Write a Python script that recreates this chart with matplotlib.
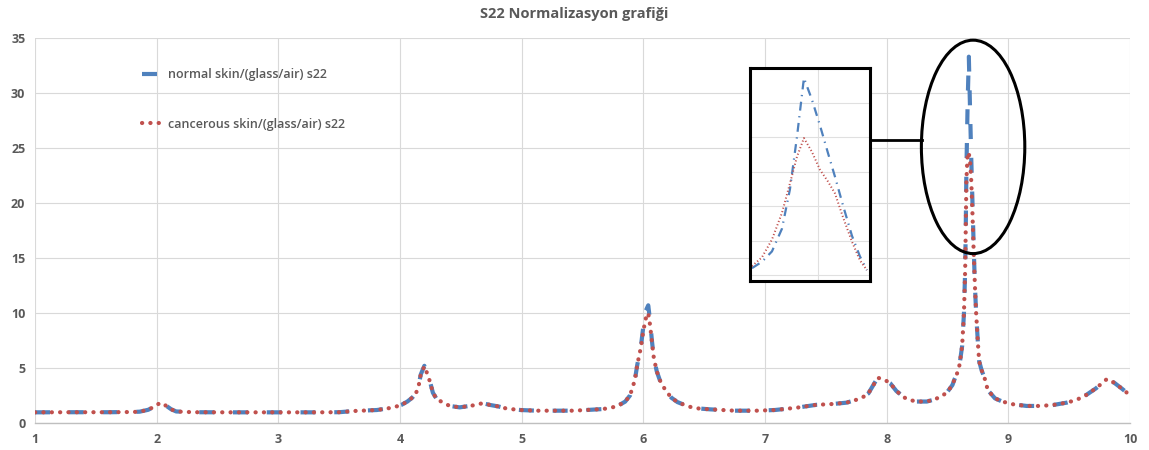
import matplotlib
matplotlib.use("Agg")
import matplotlib.pyplot as plt
from matplotlib.patches import Ellipse
from matplotlib.lines import Line2D

plt.rcParams['font.family'] = ['Open Sans', 'DejaVu Sans']

# ---------------- data ----------------
title = "S22 Normalizasyon grafiği"
label_normal = "normal skin/(glass/air) s22"
label_cancer = "cancerous skin/(glass/air) s22"

x_vals = [1.0, 1.3, 1.6, 1.8, 1.86, 1.93, 1.99, 2.03, 2.08, 2.12, 2.16, 2.3, 2.6, 3.0, 3.3,
          3.5, 3.62, 3.81, 3.94, 4.01, 4.06, 4.10, 4.13, 4.15, 4.17, 4.20, 4.23, 4.25, 4.27,
          4.30, 4.36, 4.41, 4.49, 4.60, 4.68, 4.74, 4.81, 4.88, 4.99, 5.12, 5.26, 5.42, 5.53,
          5.67, 5.78, 5.85, 5.89, 5.93, 5.95, 5.98, 6.00, 6.02, 6.04, 6.055, 6.07, 6.086, 6.11,
          6.135, 6.18, 6.23, 6.28, 6.36, 6.42, 6.55, 6.75, 6.93, 7.08, 7.26, 7.42, 7.56, 7.67,
          7.79, 7.85, 7.89, 7.93, 7.98, 8.03, 8.08, 8.16, 8.24, 8.33, 8.38, 8.45, 8.50, 8.54,
          8.56, 8.59, 8.60, 8.62, 8.635, 8.645, 8.65, 8.655, 8.665, 8.675, 8.685, 8.695, 8.705,
          8.715, 8.725, 8.735, 8.75, 8.76, 8.78, 8.81, 8.83, 8.89, 8.95, 9.04, 9.15, 9.26, 9.37,
          9.48, 9.56, 9.64, 9.72, 9.81, 9.87, 9.93, 9.98, 10.0]

normal_vals = [0.97, 0.98, 0.98, 1.0, 1.03, 1.2, 1.55, 1.85, 1.55, 1.24, 1.05, 0.98, 0.97, 0.97, 0.97,
               0.98, 1.09, 1.18, 1.4, 1.64, 1.95, 2.3, 2.7, 3.2, 4.4, 5.2, 4.3, 3.6, 2.75,
               2.2, 1.8, 1.55, 1.42, 1.6, 1.8, 1.64, 1.5, 1.3, 1.18, 1.12, 1.12, 1.12, 1.18,
               1.27, 1.5, 1.94, 2.5, 3.9, 5.3, 7.0, 8.8, 10.2, 10.7, 9.3, 7.5, 5.9, 4.7,
               3.9, 3.0, 2.3, 1.9, 1.55, 1.35, 1.24, 1.12, 1.12, 1.18, 1.39, 1.65, 1.73, 1.85,
               2.24, 2.7, 3.45, 4.2, 3.95, 3.6, 2.9, 2.2, 1.95, 1.95, 2.1, 2.4, 2.85, 3.45,
               4.05, 4.8, 5.4, 7.0, 10.0, 14.0, 18.0, 23.0, 29.0, 33.3, 28.5, 24.0, 20.0,
               16.0, 12.5, 10.0, 7.2, 5.6, 4.8, 3.9, 3.0, 2.24, 1.95, 1.7, 1.55, 1.55, 1.64,
               1.85, 2.1, 2.55, 3.15, 4.0, 3.66, 3.15, 2.7, 2.55]

cancer_vals = [0.97, 0.98, 0.98, 1.0, 1.03, 1.2, 1.55, 1.85, 1.55, 1.24, 1.05, 0.98, 0.97, 0.97, 0.97,
               0.98, 1.09, 1.18, 1.4, 1.64, 1.95, 2.3, 2.7, 3.2, 4.4, 5.15, 4.3, 3.6, 2.75,
               2.2, 1.8, 1.55, 1.42, 1.6, 1.8, 1.64, 1.5, 1.3, 1.18, 1.12, 1.12, 1.12, 1.18,
               1.27, 1.5, 1.94, 2.5, 3.9, 5.3, 6.9, 8.4, 9.5, 10.0, 8.9, 7.4, 5.9, 4.7,
               3.9, 3.0, 2.3, 1.9, 1.55, 1.35, 1.24, 1.12, 1.12, 1.18, 1.39, 1.65, 1.73, 1.85,
               2.24, 2.7, 3.45, 4.1, 3.95, 3.6, 2.9, 2.2, 1.95, 1.95, 2.1, 2.4, 2.85, 3.45,
               4.05, 4.8, 5.4, 7.0, 10.0, 14.0, 18.0, 22.0, 24.6, 24.5, 23.8, 22.0, 19.0,
               15.5, 12.5, 10.0, 7.2, 5.6, 4.8, 3.9, 3.0, 2.24, 1.95, 1.7, 1.55, 1.55, 1.64,
               1.85, 2.1, 2.55, 3.15, 4.0, 3.66, 3.15, 2.7, 2.55]

# zoomed view of the main resonance (inset)
inset_x = [8.622, 8.632, 8.642, 8.652, 8.66, 8.667, 8.674, 8.682, 8.69, 8.698, 8.705,
           8.713, 8.722, 8.73, 8.737]
inset_normal = [14.0, 14.65, 15.7, 18.0, 22.0, 27.3, 33.3, 31.1, 28.5, 25.7, 23.3,
                20.4, 17.3, 15.2, 13.8]
inset_cancer = [14.2, 15.1, 16.9, 19.6, 22.6, 25.3, 27.2, 25.8, 24.0, 22.8, 21.6,
                19.2, 16.7, 14.8, 13.8]

x_ticks = [1, 2, 3, 4, 5, 6, 7, 8, 9, 10]
y_ticks = [0, 5, 10, 15, 20, 25, 30, 35]

# ---------------- styling ----------------
BLUE = "#4F81BD"
RED = "#C0504D"
TXT = "#595959"
GRID = "#D9D9D9"

fig = plt.figure(figsize=(11.49, 4.5), dpi=100)
ax = fig.add_axes([0.0305, 0.06, 0.953, 0.8556])

ax.plot(x_vals, normal_vals, color=BLUE, lw=3.0, linestyle=(0, (3.6, 4.5)),
        dash_capstyle='butt', label=label_normal, zorder=3)
ax.plot(x_vals, cancer_vals, color=RED, lw=3.0, linestyle=(0, (0.05, 1.95)),
        dash_capstyle='round', label=label_cancer, zorder=4)

ax.set_xlim(1, 10)
ax.set_ylim(0, 35)
ax.set_xticks(x_ticks)
ax.set_yticks(y_ticks)
ax.grid(True, color=GRID, lw=0.8)
ax.set_axisbelow(True)
for s in ['top', 'right', 'left']:
    ax.spines[s].set_visible(False)
ax.spines['bottom'].set_color("#BFBFBF")
ax.spines['bottom'].set_linewidth(1.0)
ax.tick_params(length=0, labelsize=9, labelcolor=TXT, pad=7)
for lab in ax.get_xticklabels() + ax.get_yticklabels():
    lab.set_fontweight('bold')

fig.suptitle(title, x=0.5, y=0.985, fontsize=10.5, fontweight='bold', color=TXT)

leg = ax.legend(loc='upper left', bbox_to_anchor=(0.118, 0.862), bbox_transform=fig.transFigure,
                frameon=False, fontsize=9, handlelength=1.7, handletextpad=0.4,
                labelspacing=2.9, borderpad=0)
for t in leg.get_texts():
    t.set_color(TXT)
    t.set_fontweight('semibold')

# ellipse highlighting the main peak + connector
ell = Ellipse((8.71, 25.1), width=0.85, height=19.4, fill=False, edgecolor='black',
              lw=2.2, zorder=6, clip_on=False)
ax.add_patch(ell)
ax.add_line(Line2D([7.861, 8.286], [25.7, 25.7], color='black', lw=2.0, zorder=6))

# inset
axin = fig.add_axes([0.6527, 0.3756, 0.1044, 0.473])
axin.plot(inset_x, inset_normal, color=BLUE, lw=1.6, linestyle=(0, (4, 2.5, 0.6, 2.5)))
axin.plot(inset_x, inset_cancer, color=RED, lw=1.4, linestyle=(0, (0.6, 1.2)))
axin.set_xlim(8.62, 8.74)
axin.set_ylim(12.7, 34.3)
axin.set_xticks([8.688])
axin.set_yticks([13.3, 16.8, 20.3, 23.8, 27.3, 30.8])
axin.grid(True, color="#E0E0E0", lw=0.8)
axin.set_axisbelow(True)
axin.tick_params(length=0, labelbottom=False, labelleft=False)
for s in axin.spines.values():
    s.set_color('black')
    s.set_linewidth(2.2)

fig.savefig("out.png", dpi=100)
